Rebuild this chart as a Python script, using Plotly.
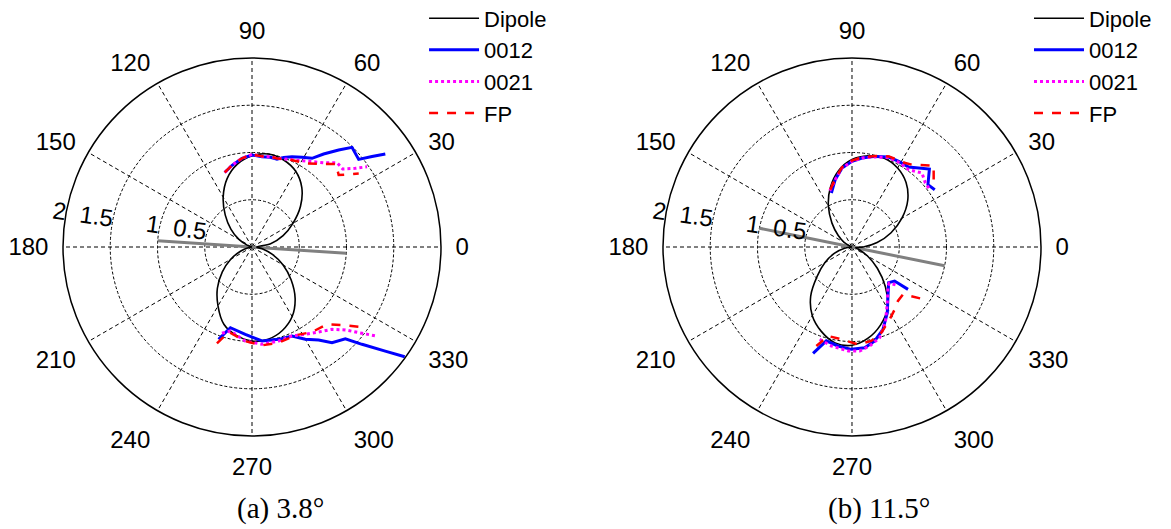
import plotly.graph_objects as go

# ---------------- data ----------------
angle_ticks = [0, 30, 60, 90, 120, 150, 180, 210, 240, 270, 300, 330]
angle_labels = [str(a) for a in angle_ticks]
radial_ticks = [0.5, 1, 1.5, 2]
radial_labels = ["0.5", "1", "1.5", "2"]

dip_theta = list(range(0, 361, 10))
dip_a = [0.05, 0.2, 0.35, 0.5, 0.67, 0.82, 0.925, 0.98, 1.0, 0.965, 0.89, 0.77,
         0.61, 0.44, 0.29, 0.16, 0.05, 0.0, 0.0, 0.04, 0.13, 0.26, 0.41, 0.57,
         0.72, 0.87, 0.95, 0.995, 0.99, 0.94, 0.85, 0.71, 0.54, 0.38, 0.23, 0.11, 0.05]
dip_b = [0.12, 0.27, 0.44, 0.61, 0.77, 0.89, 0.965, 1.0, 0.98, 0.925, 0.82, 0.67,
         0.5, 0.33, 0.19, 0.09, 0.01, 0.0, 0.0, 0.08, 0.2, 0.33, 0.48, 0.68,
         0.84, 0.95, 1.03, 1.04, 0.98, 0.88, 0.75, 0.55, 0.35, 0.19, 0.08, 0.04, 0.12]

gray_r = [1, 0, 1]
gray_theta_a = [176.2, 0, 356.2]   # 3.8 deg
gray_theta_b = [168.5, 0, 348.5]   # 11.5 deg

# panel (a) 3.8 deg
blue_a_top_t = [110.1, 103.7, 96.4, 90, 83.7, 78.4, 74.1, 70.5, 66.1, 60.9, 55.9, 52.4, 48.2, 44.9, 39.4, 37.0, 34.9]
blue_a_top_r = [0.84, 0.89, 0.945, 0.974, 0.96, 0.969, 0.965, 1.006, 1.045, 1.086, 1.133, 1.242, 1.376, 1.494, 1.461, 1.59, 1.72]
blue_a_bot_t = [250.1, 255.0, 265.6, 276.1, 286.1, 294.2, 300.0, 305.6, 309.9, 315.5, 318.5, 322.0, 324.3]
blue_a_bot_r = [1.039, 0.884, 0.927, 1.0, 1.017, 1.032, 1.128, 1.211, 1.32, 1.385, 1.554, 1.789, 1.99]

mag_a_top_t = [110.1, 103.7, 96.4, 90, 83.7, 78.4, 74.1, 67.3, 59.9, 54.9, 49.0, 44.8, 40.7, 37.3, 34.9]
mag_a_top_r = [0.84, 0.89, 0.945, 0.98, 0.965, 0.975, 0.975, 1.006, 1.055, 1.104, 1.18, 1.267, 1.266, 1.374, 1.484]
mag_a_bot_t = [250.8, 255.5, 265.9, 275.9, 285.8, 294.2, 301.4, 308.1, 314.2, 318.4, 321.9, 324.5]
mag_a_bot_r = [0.967, 0.918, 0.997, 1.035, 1.034, 1.032, 1.083, 1.143, 1.215, 1.322, 1.48, 1.624]

red_a_top_t = [110.1, 103.7, 96.4, 90, 83.7, 78.4, 74.1, 67.3, 57.5, 49.9, 44.7, 39.7, 36.9, 34.6]
red_a_top_r = [0.84, 0.89, 0.945, 0.98, 0.965, 0.975, 0.975, 1.006, 1.05, 1.149, 1.25, 1.192, 1.28, 1.372]
red_a_bot_t = [250.0, 254.7, 266.0, 275.8, 285.6, 296.1, 305.2, 314.1, 320.0, 324.6]
red_a_bot_r = [1.085, 0.932, 1.0, 1.046, 1.051, 1.041, 1.101, 1.14, 1.29, 1.472]

# panel (b) 11.5 deg
blue_b_top_t = [110.9, 104.0, 97.2, 90, 83.6, 75.6, 67.8, 61.4, 54.7, 45.2, 39.4, 34.7]
blue_b_top_r = [0.612, 0.734, 0.843, 0.907, 0.948, 0.99, 1.028, 1.032, 1.037, 1.162, 1.04, 1.065]
blue_b_bot_t = [249.9, 254.7, 261.9, 269.6, 277.2, 283.6, 290.6, 298.3, 306.3, 315.8, 321.4, 322.9]
blue_b_bot_r = [1.199, 1.03, 1.058, 1.083, 1.074, 1.023, 0.931, 0.789, 0.643, 0.541, 0.577, 0.743]

mag_b_top_t = [111.5, 104.0, 97.2, 90, 83.6, 75.6, 67.8, 61.4, 53.8, 46.6, 41.1, 35.9]
mag_b_top_r = [0.64, 0.734, 0.843, 0.907, 0.948, 0.985, 1.02, 1.025, 1.015, 1.078, 1.03, 1.023]
mag_b_bot_t = [250.7, 258.2, 267.8, 274.2, 280.1, 287.0, 293.8, 302.4, 312.7, 316.0, 320.2]
mag_b_bot_r = [1.035, 1.07, 1.1, 1.103, 1.064, 1.003, 0.875, 0.698, 0.561, 0.55, 0.634]

red_b_top_t = [110.7, 104.0, 97.2, 90, 83.6, 75.6, 67.8, 57.6, 53.9, 44.9, 39.5, 35.6]
red_b_top_r = [0.649, 0.74, 0.85, 0.915, 0.955, 0.995, 1.035, 1.053, 1.078, 1.22, 1.12, 1.15]
red_b_bot_t = [250.2, 255.1, 263.4, 273.5, 281.6, 288.9, 297.5, 304.4, 310.4, 317.1, 323.3]
red_b_bot_r = [1.114, 0.975, 0.983, 1.032, 1.015, 0.958, 0.863, 0.8, 0.75, 0.736, 0.915]

captions = ["(a) 3.8°", "(b) 11.5°"]

# ---------------- figure ----------------
SANS = "Liberation Sans, Arial, sans-serif"
SERIF = "Liberation Serif, Times New Roman, serif"

fig = go.Figure()


def join(a, b):
    return a + [None] + b


def add_panel(subplot, legend, dip, gray_theta, bt, br, bbt, bbr, mt, mr, mbt, mbr, rt, rr, rbt, rbr):
    fig.add_trace(go.Scatterpolar(r=gray_r, theta=gray_theta, mode="lines",
                                  line=dict(color="#808080", width=3),
                                  showlegend=False, subplot=subplot, hoverinfo="skip"))
    fig.add_trace(go.Scatterpolar(r=dip, theta=dip_theta, mode="lines", name="Dipole",
                                  line=dict(color="black", width=1.6, shape="spline"),
                                  subplot=subplot, legend=legend))
    fig.add_trace(go.Scatterpolar(r=join(br, bbr), theta=join(bt, bbt), mode="lines", name="0012",
                                  line=dict(color="#0000ff", width=3),
                                  subplot=subplot, legend=legend, connectgaps=False))
    fig.add_trace(go.Scatterpolar(r=join(mr, mbr), theta=join(mt, mbt), mode="lines", name="0021",
                                  line=dict(color="#ff00ff", width=3, dash="dot"),
                                  subplot=subplot, legend=legend, connectgaps=False))
    fig.add_trace(go.Scatterpolar(r=join(rr, rbr), theta=join(rt, rbt), mode="lines", name="FP",
                                  line=dict(color="#ff0000", width=2.5, dash="dash"),
                                  subplot=subplot, legend=legend, connectgaps=False))


add_panel("polar", "legend", dip_a, gray_theta_a,
          blue_a_top_t, blue_a_top_r, blue_a_bot_t, blue_a_bot_r,
          mag_a_top_t, mag_a_top_r, mag_a_bot_t, mag_a_bot_r,
          red_a_top_t, red_a_top_r, red_a_bot_t, red_a_bot_r)
add_panel("polar2", "legend2", dip_b, gray_theta_b,
          blue_b_top_t, blue_b_top_r, blue_b_bot_t, blue_b_bot_r,
          mag_b_top_t, mag_b_top_r, mag_b_bot_t, mag_b_bot_r,
          red_b_top_t, red_b_top_r, red_b_bot_t, red_b_bot_r)

lead = "\u00a0" * 2


def polar_layout(xdom):
    return dict(
        domain=dict(x=xdom, y=[0.1909, 0.9055]),
        bgcolor="white",
        radialaxis=dict(range=[0, 2], tickvals=radial_ticks,
                        ticktext=[lead + t for t in radial_labels],
                        showline=False, ticks="", angle=172, side="clockwise",
                        tickangle=180,
                        gridcolor="black", griddash="3px,2px", gridwidth=1.3,
                        tickfont=dict(family=SANS, size=24, color="black")),
        angularaxis=dict(tickvals=angle_ticks, ticktext=angle_labels, rotation=0,
                         direction="counterclockwise", showline=True,
                         linecolor="black", linewidth=1.5,
                         gridcolor="black", griddash="4px,3px", gridwidth=1.3,
                         ticks="outside", ticklen=9, tickcolor="rgba(0,0,0,0)",
                         tickfont=dict(family=SANS, size=24, color="black")),
    )


legend_common = dict(xanchor="left", yanchor="top", yref="paper",
                     bgcolor="rgba(0,0,0,0)",
                     font=dict(family=SANS, size=22, color="black"),
                     tracegroupgap=0, borderwidth=0, itemwidth=50)

fig.update_layout(
    width=1171, height=529,
    margin=dict(l=0, r=0, t=0, b=0, autoexpand=False),
    paper_bgcolor="white", plot_bgcolor="white",
    polar=polar_layout([0.04697, 0.36977]),
    polar2=polar_layout([0.5593, 0.8822]),
    legend=dict(x=0.3553, y=1.02, **legend_common),
    legend2=dict(x=0.8719, y=1.02, **legend_common),
    annotations=[
        dict(text=captions[0], x=0.2323, y=0.0548, xref="paper", yref="paper",
             xanchor="center", yanchor="middle",
             showarrow=False, font=dict(family=SERIF, size=29, color="black")),
        dict(text=captions[1], x=0.7438, y=0.0548, xref="paper", yref="paper",
             xanchor="center", yanchor="middle",
             showarrow=False, font=dict(family=SERIF, size=29, color="black")),
    ],
)

fig.write_html("out.html")
